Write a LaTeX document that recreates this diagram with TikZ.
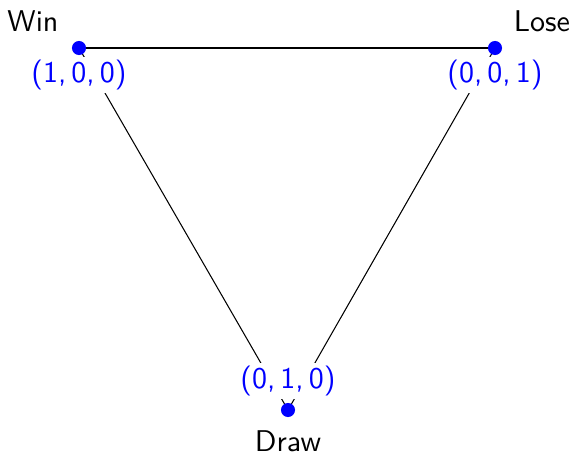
\documentclass[tikz,border=0pt]{standalone}
\usetikzlibrary{positioning}

\tikzset{
  outcome/.style={circle, fill=blue, inner sep=0pt, minimum size=4.7pt},
  coords/.style={text=blue, fill=white, inner sep=1pt, font=\sffamily},
  result/.style={font=\sffamily}
}

\begin{document}
\begin{tikzpicture}[x=0.3333pt, y=-0.3333pt, line width=0.35pt]
  \useasboundingbox (0,0) rectangle (574,453);
  % corners of the simplex
  \coordinate (win) at (79,48);
  \coordinate (lose) at (495,48);
  \coordinate (drw) at (288,410);
  \draw (win) -- (lose);
  \draw (win) -- (drw);
  \draw (lose) -- (drw);
  % barycentric labels
  \node[coords] (wincoords) at (79,75) {(1,\,0,\,0)};
  \node[coords] (losecoords) at (495,75) {(0,\,0,\,1)};
  \node[coords] (drwcoords) at (288,381) {(0,\,1,\,0)};
  \node[outcome] (windot) at (win) {};
  \node[outcome] (losedot) at (lose) {};
  \node[outcome] (drwdot) at (drw) {};
  \node[result] (winlabel) at (33,21) {Win};
  \node[result] (loselabel) at (542,21) {Lose};
  \node[result] (drwlabel) at (288,441) {Draw};
\end{tikzpicture}
\end{document}
